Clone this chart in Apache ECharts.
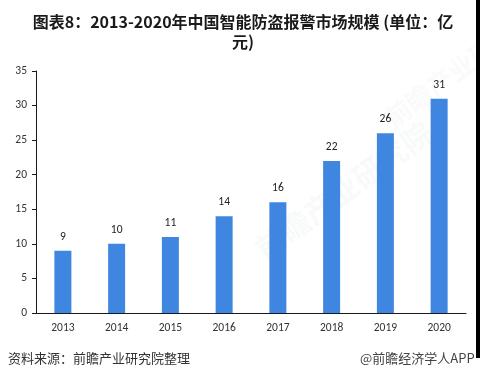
<!DOCTYPE html>
<html><head><meta charset="utf-8">
<script src="https://cdn.jsdelivr.net/npm/echarts@6/dist/echarts.min.js"></script>
<style>html,body{margin:0;padding:0;background:#fff}#c{width:480px;height:382px}</style>
</head><body><div id="c"></div>
<script>
var categories = ['2013','2014','2015','2016','2017','2018','2019','2020'];
var values = [9, 10, 11, 14, 16, 22, 26, 31];
var yTicks = [0, 5, 10, 15, 20, 25, 30, 35];
var titleText = '图表8：2013-2020年中国智能防盗报警市场规模 (单位：亿\n元)';
var sourceText = '资料来源：前瞻产业研究院整理';
var brandText = '@前瞻经济学人APP';

var chart = echarts.init(document.getElementById('c'), null, {renderer:'canvas'});
var font = '"Microsoft YaHei","Noto Sans CJK SC",sans-serif';
var numFont = 'Calibri,"Liberation Sans",sans-serif';
chart.setOption({
  animation: false,
  backgroundColor: '#fff',
  title: {
    text: titleText, left: 238, top: 7, textAlign: 'center',
    textStyle: {fontSize: 16, fontWeight: 'bold', color: '#1a1a1a', fontFamily: font, lineHeight: 20}
  },
  grid: {left: 36, right: 14, top: 71, bottom: 69, containLabel: false},
  xAxis: {
    type: 'category', data: categories,
    axisLine: {lineStyle: {color: '#1a1a1a', width: 1}},
    axisTick: {show: false},
    axisLabel: {color: '#333', fontSize: 11.5, margin: 9, fontFamily: numFont}
  },
  yAxis: {
    type: 'value', min: yTicks[0], max: yTicks[yTicks.length-1], interval: 5,
    axisLine: {show: true, lineStyle: {color: '#1a1a1a', width: 1}},
    axisTick: {show: true, length: 4, lineStyle: {color: '#1a1a1a'}},
    splitLine: {show: false},
    axisLabel: {color: '#333', fontSize: 11.5, margin: 9, fontFamily: numFont}
  },
  series: [{
    type: 'bar', data: values, barWidth: 17,
    itemStyle: {color: '#3F86E0'},
    label: {show: true, position: 'top', distance: 8, color: '#222', fontSize: 11.5, fontFamily: numFont}
  }],
  graphic: [
    {type: 'text', left: 8, top: 352, style: {text: sourceText, font: '13px ' + font, fill: '#333'}},
    {type: 'text', left: 360, top: 352, style: {text: brandText, font: '13px ' + font, fill: '#444'}},
    {type: 'text', x: 250, y: 240, rotation: Math.PI/5, style: {text: '前瞻产业研究院', font: 'bold 30px ' + font, fill: 'rgba(120,130,140,0.05)'}},
    {type: 'text', x: 380, y: 110, rotation: Math.PI/5, style: {text: '前瞻产业研究院', font: 'bold 26px ' + font, fill: 'rgba(120,130,140,0.045)'}},
    {type: 'rect', shape: {x: 476, y: 0, width: 4, height: 358}, style: {fill: '#000'}}
  ]
});
</script></body></html>
